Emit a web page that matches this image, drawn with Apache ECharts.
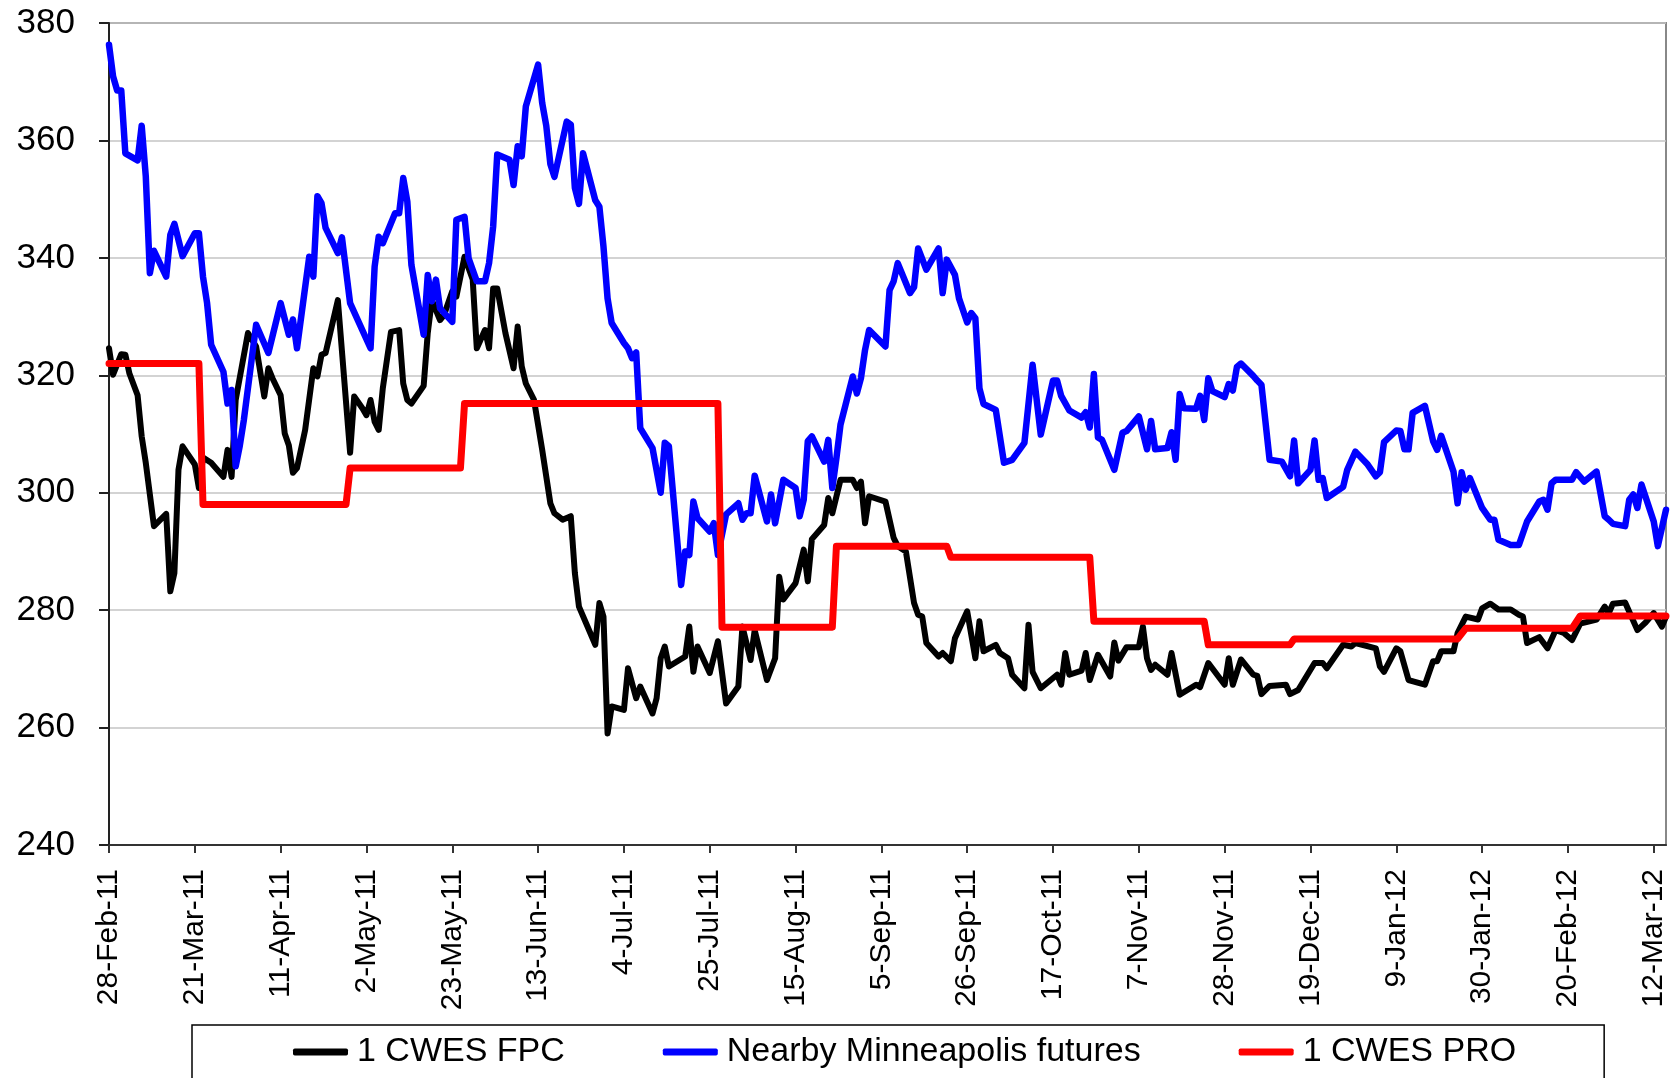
<!DOCTYPE html>
<html>
<head>
<meta charset="utf-8">
<script src="https://cdn.jsdelivr.net/npm/echarts@6/dist/echarts.min.js"></script>
<style>
  html, body { margin: 0; padding: 0; background: #fff; }
  #chart { width: 1677px; height: 1078px; }
</style>
</head>
<body>
<div id="chart"></div>
<script>
// x values are days since 28-Feb-11
const tickLabels = ['28-Feb-11', '21-Mar-11', '11-Apr-11', '2-May-11', '23-May-11', '13-Jun-11',
  '4-Jul-11', '25-Jul-11', '15-Aug-11', '5-Sep-11', '26-Sep-11', '17-Oct-11', '7-Nov-11',
  '28-Nov-11', '19-Dec-11', '9-Jan-12', '30-Jan-12', '20-Feb-12', '12-Mar-12'];

const seriesNames = ['1 CWES FPC', 'Nearby Minneapolis futures', '1 CWES PRO'];

const fpcDay = [0, 1, 3, 4, 5, 7, 8, 9, 11, 14, 15, 16, 17, 18, 21, 22, 23, 25, 28, 29, 30, 31, 34, 36, 38, 39, 40,
  42, 43, 44, 45, 46, 48, 50, 51, 52, 53, 56, 59, 60, 62, 63, 64, 65, 66, 67, 69, 71, 72, 73, 74, 77, 78, 79, 81,
  82, 84, 85, 87, 89, 90, 92, 93, 94, 95, 97, 99, 100, 101, 102, 104, 106, 108, 109, 111, 113, 114, 115, 119, 120,
  121, 122, 123, 126, 127, 129, 130, 133, 134, 135, 136, 137, 141, 142, 143, 144, 147, 149, 151, 154, 155, 157,
  158, 161, 163, 164, 165, 168, 170, 171, 172, 175, 176, 177, 179, 182, 183, 184, 185, 186, 190, 192, 193, 195,
  197, 198, 199, 200, 203, 204, 206, 207, 210, 212, 213, 214, 217, 218, 220, 221, 224, 225, 226, 228, 232, 233,
  234, 235, 238, 239, 240, 242, 245, 246, 247, 249, 252, 253, 254, 255, 256, 259, 260, 262, 266, 267, 269, 273,
  274, 275, 277, 280, 281, 282, 284, 288, 289, 291, 295, 297, 298, 302, 304, 305, 310, 311, 312, 315, 316, 318,
  322, 324, 325, 326, 329, 330, 332, 335, 336, 338, 340, 343, 345, 346, 347, 350, 352, 354, 356, 358, 360, 364,
  366, 367, 368, 371, 374, 376, 378, 380, 381];
const fpcVal = [324.6, 320.1, 323.6, 323.5, 320.3, 316.6, 309.6, 305.1, 294.3, 296.4, 283.2, 286.3, 303.9, 307.9,
  304.8, 300.8, 306.0, 305.1, 302.7, 307.3, 302.7, 315.8, 327.2, 324.9, 316.4, 321.2, 319.5, 316.6, 310.1, 308.1,
  303.4, 304.2, 310.7, 321.2, 319.8, 323.5, 323.8, 332.8, 306.8, 316.4, 314.4, 313.2, 315.8, 312.1, 310.7, 317.8,
  327.4, 327.7, 318.6, 315.8, 315.2, 318.2, 327.2, 332.8, 329.4, 330.3, 334.3, 333.4, 340.2, 336.3, 324.6, 327.7,
  324.6, 334.8, 334.8, 327.2, 321.2, 328.3, 321.5, 318.6, 315.8, 307.3, 298.2, 296.5, 295.4, 296.0, 286.3, 280.6,
  274.1, 281.2, 278.9, 259.0, 263.6, 263.0, 270.1, 265.0, 267.0, 262.4, 265.0, 271.8, 273.8, 270.4, 272.1, 277.2,
  269.5, 273.8, 269.3, 274.7, 264.1, 267.0, 277.2, 271.5, 276.6, 268.1, 271.8, 285.7, 281.8, 284.6, 290.3, 284.9,
  292.1, 294.5, 299.1, 296.5, 302.2, 302.2, 300.8, 301.9, 294.8, 299.4, 298.5, 292.3, 290.9, 290.0, 281.2, 279.2,
  278.9, 274.4, 272.1, 272.7, 271.3, 275.2, 279.8, 271.8, 278.1, 273.0, 274.1, 272.7, 271.8, 269.0, 266.7, 277.5,
  269.5, 266.7, 269.0, 267.3, 272.7, 269.0, 269.7, 272.7, 268.1, 272.4, 268.7, 274.5, 271.4, 273.7, 273.7, 277.2,
  271.8, 269.8, 270.7, 269.0, 272.7, 265.6, 267.3, 266.9, 271.0, 267.3, 271.8, 267.3, 271.6, 269.0, 268.8, 265.7,
  267.1, 267.3, 265.7, 266.4, 271.0, 271.0, 270.1, 274.1, 273.8, 274.4, 273.5, 270.4, 269.5, 273.5, 273.0, 268.1,
  267.3, 271.3, 271.3, 273.0, 273.0, 276.1, 278.9, 278.4, 280.3, 281.1, 280.1, 280.1, 279.2, 278.9, 274.4, 275.4,
  273.5, 276.6, 276.1, 274.9, 277.7, 278.4, 280.6, 279.5, 281.1, 281.3, 276.6, 277.9, 279.5, 277.2, 278.9];

const mplsDay = [0, 1, 2, 3, 4, 7, 8, 9, 10, 11, 14, 15, 16, 18, 21, 22, 23, 24, 25, 28, 29, 30, 31, 32, 33, 36,
  39, 42, 44, 45, 46, 49, 50, 51, 52, 53, 56, 57, 59, 64, 65, 66, 67, 70, 71, 72, 73, 74, 77, 78, 79, 80, 81, 84,
  85, 87, 88, 90, 92, 93, 94, 95, 98, 99, 100, 101, 102, 105, 106, 107, 108, 109, 112, 113, 114, 115, 116, 119,
  120, 121, 122, 123, 126, 127, 128, 129, 130, 133, 135, 136, 137, 140, 141, 142, 143, 144, 147, 148, 149, 151,
  154, 155, 156, 157, 158, 161, 162, 163, 165, 168, 169, 170, 171, 172, 175, 176, 177, 178, 179, 182, 183, 184,
  185, 186, 190, 191, 192, 193, 196, 197, 198, 200, 203, 204, 205, 207, 208, 210, 211, 212, 213, 214, 217, 219,
  221, 224, 226, 228, 231, 232, 233, 235, 238, 239, 240, 241, 242, 243, 246, 248, 249, 252, 254, 255, 256, 259,
  260, 261, 262, 263, 266, 267, 268, 269, 270, 273, 274, 275, 276, 277, 280, 281, 282, 284, 287, 289, 290, 291,
  294, 295, 296, 297, 298, 302, 303, 305, 308, 310, 311, 312, 315, 316, 317, 318, 319, 322, 324, 325, 326, 329,
  330, 331, 332, 333, 336, 338, 339, 340, 343, 345, 347, 350, 351, 352, 353, 354, 358, 359, 361, 364, 366, 367,
  368, 371, 372, 373, 374, 375, 378, 379, 381];
const mplsVal = [376.3, 370.9, 368.5, 368.5, 357.8, 356.6, 362.5, 353.9, 337.4, 341.2, 336.8, 343.9, 345.8, 340.3,
  344.2, 344.2, 336.8, 332.3, 325.2, 320.6, 315.2, 317.5, 304.5, 308.0, 312.4, 328.6, 323.8, 332.3, 326.9, 329.5,
  324.6, 340.2, 336.8, 350.5, 349.3, 345.1, 340.8, 343.5, 332.3, 324.6, 338.5, 343.6, 342.5, 347.6, 347.6, 353.6,
  349.6, 338.8, 326.9, 337.1, 332.6, 336.3, 331.4, 329.1, 346.5, 347.0, 339.9, 336.0, 336.0, 339.1, 345.3, 357.6,
  356.7, 352.4, 359.0, 357.3, 365.8, 372.9, 366.4, 362.5, 356.0, 353.8, 363.2, 362.7, 351.9, 349.2, 357.8, 349.8,
  348.7, 341.9, 333.1, 328.9, 325.5, 324.6, 322.9, 323.9, 311.0, 307.6, 300.0, 308.5, 307.9, 284.3, 290.0, 289.4,
  298.5, 295.7, 293.4, 294.8, 289.4, 296.3, 298.2, 295.4, 296.5, 296.5, 302.9, 295.1, 299.7, 294.8, 302.2, 300.8,
  296.0, 298.8, 308.8, 309.6, 305.3, 309.0, 300.8, 305.9, 311.6, 319.8, 316.9, 319.5, 324.3, 327.7, 324.9, 334.5,
  336.0, 339.1, 334.0, 335.0, 341.6, 338.0, 341.6, 334.0, 339.7, 337.1, 333.1, 329.0, 330.6, 329.7, 317.8, 315.1,
  314.1, 305.1, 305.6, 308.5, 321.8, 309.9, 319.1, 319.1, 316.5, 314.0, 312.8, 313.7, 311.1, 320.2, 309.4, 309.0,
  303.9, 310.2, 310.5, 313.0, 307.4, 312.2, 307.4, 307.6, 310.3, 305.6, 316.8, 314.4, 314.3, 316.5, 312.4, 319.5,
  317.3, 316.3, 318.5, 317.4, 321.4, 322.0, 319.9, 319.1, 318.4, 305.6, 305.3, 302.8, 308.9, 301.6, 303.9, 308.9,
  302.2, 302.5, 299.1, 301.0, 303.9, 307.0, 304.8, 302.8, 303.5, 308.6, 310.6, 310.5, 307.4, 307.4, 313.6, 314.8,
  308.8, 307.3, 309.7, 303.6, 298.2, 303.5, 300.5, 302.5, 297.4, 295.4, 295.4, 292.0, 291.1, 291.1, 295.1, 298.5,
  298.8, 297.1, 301.6, 302.2, 302.2, 303.5, 301.9, 303.6, 296.0, 295.4, 294.7, 294.3, 298.8, 299.7, 297.4, 301.4,
  295.1, 290.9, 297.1];

const proDay = [0, 22, 23, 58, 59, 86, 87, 149, 150, 177, 178, 205, 206, 240, 241, 268, 269, 289, 290, 330, 332,
  358, 360, 381];
const proVal = [322.0, 322.0, 298.0, 298.0, 304.2, 304.2, 315.2, 315.2, 277.1, 277.1, 290.9, 290.9, 289.0, 289.0,
  278.1, 278.1, 274.1, 274.1, 275.1, 275.1, 276.9, 276.9, 279.0, 279.0];

const font = '"Liberation Sans", Arial, sans-serif';
const pairs = (days, vals) => days.map((d, i) => [d, vals[i]]);

const lineSeries = (name, days, vals, color, width) => ({
  name: name,
  type: 'line',
  data: pairs(days, vals),
  symbol: 'none',
  showSymbol: false,
  itemStyle: { color: color },
  lineStyle: { color: color, width: width, join: 'round', cap: 'round' },
  emphasis: { disabled: true }
});

const chart = echarts.init(document.getElementById('chart'));

chart.setOption({
  animation: false,
  backgroundColor: '#fff',
  grid: {
    left: 109,
    right: 11,
    top: 23,
    bottom: 233,
    show: true,
    borderColor: '#888',
    borderWidth: 2
  },
  xAxis: {
    type: 'value',
    min: 0,
    max: 381,
    interval: 21,
    axisLine: { show: true, onZero: false, lineStyle: { color: '#333', width: 2 } },
    axisTick: { show: true, length: 8, lineStyle: { color: '#333', width: 2 } },
    axisLabel: {
      rotate: 90,
      margin: 24,
      fontSize: 30,
      fontFamily: font,
      color: '#000',
      showMaxLabel: false,
      formatter: v => (v % 21 === 0 ? (tickLabels[v / 21] || '') : '')
    },
    splitLine: { show: false }
  },
  yAxis: {
    type: 'value',
    min: 240,
    max: 380,
    interval: 20,
    axisLine: { show: true, lineStyle: { color: '#222', width: 2 } },
    axisTick: { show: true, length: 10, lineStyle: { color: '#222', width: 2 } },
    axisLabel: { margin: 34, fontSize: 35, fontFamily: font, color: '#000' },
    splitLine: { show: true, lineStyle: { color: '#c4c4c4', width: 1.5 } }
  },
  legend: {
    data: seriesNames,
    left: 192,
    top: 1025,
    orient: 'horizontal',
    padding: [7, 88, 40, 101],
    itemGap: 98,
    itemWidth: 55,
    itemHeight: 7,
    icon: 'roundRect',
    borderColor: '#000',
    borderWidth: 1.5,
    textStyle: { fontSize: 34, fontFamily: font, color: '#000', lineHeight: 40, padding: [0, 0, 0, 4] }
  },
  series: [
    lineSeries(seriesNames[0], fpcDay, fpcVal, '#000000', 6),
    lineSeries(seriesNames[1], mplsDay, mplsVal, '#0000ff', 6.5),
    lineSeries(seriesNames[2], proDay, proVal, '#ff0000', 7)
  ]
});
</script>
</body>
</html>
